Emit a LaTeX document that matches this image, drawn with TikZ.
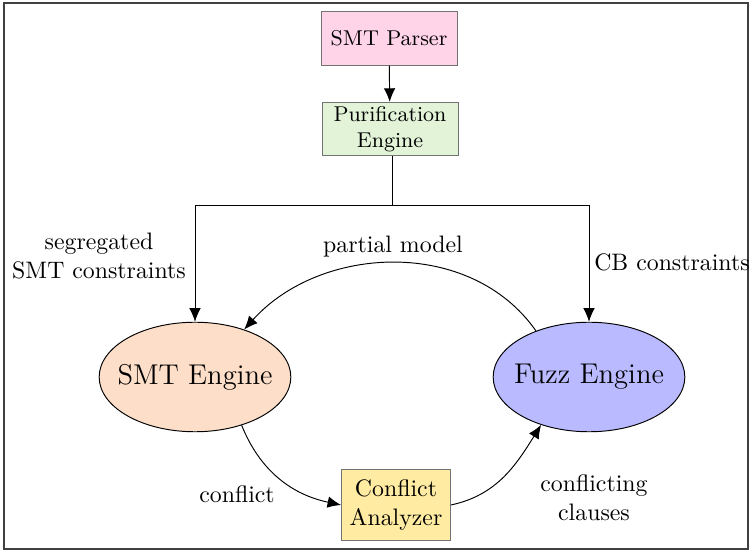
\documentclass[tikz,border=0pt]{standalone}
\usetikzlibrary{arrows.meta,positioning,shapes.geometric}
\definecolor{parserpink}{RGB}{255,212,232}
\definecolor{purifgreen}{RGB}{226,243,216}
\definecolor{smtorange}{RGB}{253,222,200}
\definecolor{fuzzblue}{RGB}{185,186,255}
\definecolor{analyzeryellow}{RGB}{255,236,162}

\begin{document}
\begin{tikzpicture}[x=0.42pt,y=-0.42pt,
  box/.style={draw=black!55,line width=0.3pt,inner sep=0pt,align=center,font=\small,minimum width=57pt,minimum height=22.5pt},
  engine/.style={ellipse,draw,line width=0.4pt,inner xsep=-5pt,inner ysep=0pt,minimum width=80.5pt,minimum height=46pt,font=\large},
  flow/.style={line width=0.4pt,-{Latex[length=2mm,width=1.7mm]}},
  lbl/.style={align=center}]
  \useasboundingbox (0,0) rectangle (752,552);
  \draw[black!75,line width=0.6pt] (4,3) rectangle (748,549);

  % boxes and engines
  \node[box,fill=parserpink] (parser) at (389,38.5) {SMT Parser};
  \node[box,fill=purifgreen] (purif) at (390,129) {Purification\\Engine};
  \node[engine,fill=smtorange] (smt) at (195,377) {SMT Engine};
  \node[engine,fill=fuzzblue] (fuzz) at (589,377) {Fuzz Engine};
  \node[box,fill=analyzeryellow,font=\normalsize,minimum width=45.8pt,minimum height=29.8pt] (analyzer) at (396,505) {Conflict\\Analyzer};
  \coordinate (split) at (392,205);

  % connectors
  \draw[flow] (parser) -- (purif);
  \draw[line width=0.4pt] (purif.south -| split) -- (split);
  \draw[flow] (split) -| (smt);
  \draw[flow] (split) -| (fuzz);
  \draw[flow] (fuzz.139) to[out=125,in=48] (smt.44);
  \draw[flow] (smt.-46) to[out=-68,in=168] (analyzer.west);
  \draw[flow] (analyzer.east) to[out=12,in=-122] (fuzz.-135);

  % labels
  \node[lbl] (seglbl) at (99,256) {segregated\\SMT constraints};
  \node[lbl] (cblbl) at (672,262) {CB constraints};
  \node[lbl] (partlbl) at (393,247) {partial model};
  \node[lbl] (conflbl) at (237,494) {conflict};
  \node[lbl] (clauselbl) at (594,498) {conflicting\\clauses};
\end{tikzpicture}
\end{document}
